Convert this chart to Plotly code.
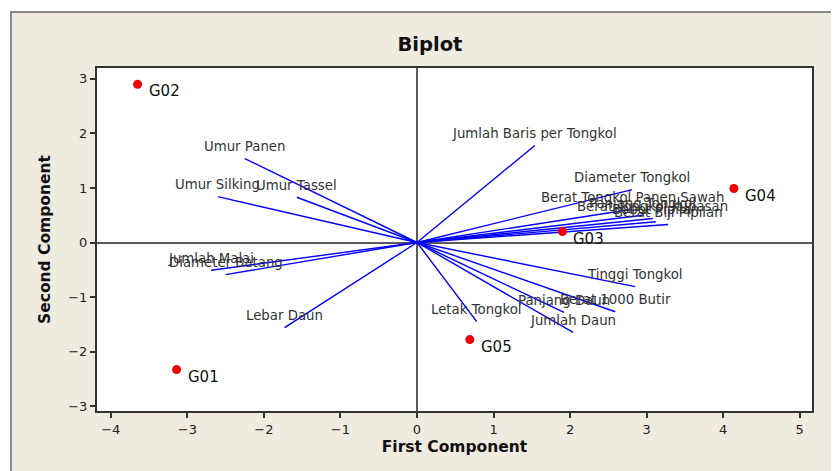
import plotly.graph_objects as go

# Variable loadings (vector end points)
variables = ["Jumlah Baris per Tongkol", "Umur Panen", "Umur Silking", "Umur Tassel",
             "Jumlah Malai", "Diameter Batang", "Lebar Daun", "Letak Tongkol",
             "Jumlah Daun", "Panjang Daun", "Berat 1000 Butir", "Tinggi Tongkol",
             "Diameter Tongkol", "Berat Tongkol Panen Sawah", "Panjang Tongkol",
             "Berat Tongkol Kupasan", "Bobot Pipilan", "Berat Biji Pipilan"]
pc1_load = [1.54, -2.25, -2.60, -1.57, -2.69, -2.50, -1.73, 0.78,
            2.04, 1.92, 2.59, 2.85, 2.81, 2.81, 2.95, 3.08, 3.12, 3.28]
pc2_load = [1.78, 1.54, 0.84, 0.83, -0.51, -0.59, -1.56, -1.45,
            -1.65, -1.28, -1.27, -0.81, 0.97, 0.61, 0.50, 0.44, 0.38, 0.33]

# Genotype scores
genotypes = ["G01", "G02", "G03", "G04", "G05"]
pc1_score = [-3.14, -3.65, 1.90, 4.14, 0.69]
pc2_score = [-2.33, 2.90, 0.20, 0.99, -1.78]

x_ticks = [-4, -3, -2, -1, 0, 1, 2, 3, 4, 5]
y_ticks = [-3, -2, -1, 0, 1, 2, 3]

fig = go.Figure()

lx, ly = [], []
for a, b in zip(pc1_load, pc2_load):
    lx += [0, a, None]
    ly += [0, b, None]
fig.add_trace(go.Scatter(x=lx, y=ly, mode="lines",
                         line=dict(color="#0000FF", width=1.4),
                         hoverinfo="skip", showlegend=False))

for v, a, b in zip(variables, pc1_load, pc2_load):
    fig.add_annotation(x=a, y=b, text=v, showarrow=False, xanchor="center",
                       yanchor="middle", yshift=12,
                       font=dict(family="DejaVu Sans", size=13.3, color="#333333"))

fig.add_trace(go.Scatter(x=pc1_score, y=pc2_score, mode="markers",
                         marker=dict(color="#EE0000", size=9),
                         showlegend=False))

for g, a, b in zip(genotypes, pc1_score, pc2_score):
    fig.add_annotation(x=a, y=b, text=g, showarrow=False, xanchor="left",
                       yanchor="middle", xshift=9, yshift=-7,
                       font=dict(family="DejaVu Sans", size=15, color="#111111"))

# Background frame
fig.add_shape(type="rect", xref="paper", yref="paper",
              x0=-0.1203, x1=1.06, y0=-0.18, y1=1.1633,
              fillcolor="#F0EBE1", line=dict(color="#8A8A8A", width=2), layer="below")
fig.add_shape(type="rect", xref="paper", yref="paper",
              x0=0, x1=1, y0=0, y1=1,
              fillcolor="#FFFFFF", line=dict(width=0), layer="below")

axis_common = dict(showgrid=False, zeroline=True, zerolinecolor="#5A5A5A", zerolinewidth=1.8,
                   showline=True, linecolor="#333333", linewidth=2, mirror=True,
                   ticks="outside", ticklen=5, tickwidth=1.5, tickcolor="#333333",
                   tickfont=dict(family="DejaVu Sans", size=13, color="#222222"))

W, H = 831, 463
fig.update_layout(
    width=W, height=H,
    margin=dict(l=89, r=27, t=60, b=60),
    paper_bgcolor="#FFFFFF", plot_bgcolor="#FFFFFF",
    title=dict(text="<b>Biplot</b>", x=0.4657, xanchor="center", xref="paper",
               y=1 - 36 / H, yanchor="middle",
               font=dict(family="DejaVu Sans", size=19.5, color="#111111")),
    xaxis=dict(range=[-4.18, 5.16], tickvals=x_ticks,
               title=dict(text="<b>First Component</b>", standoff=6,
                          font=dict(family="DejaVu Sans", size=15.5, color="#111111")),
               **axis_common),
    yaxis=dict(range=[-3.09, 3.20], tickvals=y_ticks,
               title=dict(text="<b>Second Component</b>", standoff=14,
                          font=dict(family="DejaVu Sans", size=15.5, color="#111111")),
               **axis_common),
)

fig.write_html("out.html")
